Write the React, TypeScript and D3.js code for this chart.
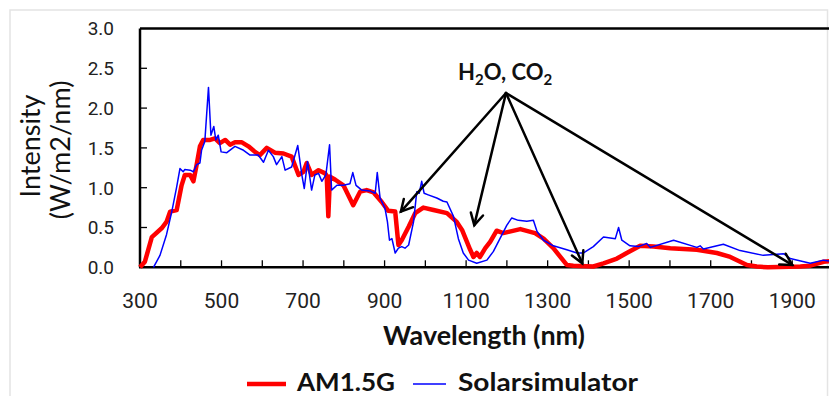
import React, { useEffect, useRef } from 'react';
import * as d3 from 'd3';

// AM1.5G reference spectrum [wavelength nm, W/m2/nm]
const am15g: [number, number][] = [
  [300, 0], [312, 0.07], [329, 0.38], [353, 0.49], [365, 0.57], [374, 0.7], [390, 0.72],
  [402, 1.03], [410, 1.16], [423, 1.16], [431, 1.08], [439, 1.29], [447, 1.52], [455, 1.6],
  [472, 1.6], [484, 1.62], [496, 1.56], [509, 1.6], [521, 1.54], [533, 1.57], [550, 1.57],
  [566, 1.52], [582, 1.45], [594, 1.41], [611, 1.5], [631, 1.44], [652, 1.43], [672, 1.39],
  [689, 1.16], [701, 1.2], [709, 1.31], [721, 1.16], [738, 1.22], [754, 1.18], [758, 1.15],
  [762, 0.64], [766, 1.14], [779, 1.1], [799, 1.03], [823, 0.78], [840, 0.95], [856, 0.97],
  [873, 0.94], [893, 0.82], [909, 0.71], [926, 0.7], [934, 0.28], [942, 0.34], [959, 0.51],
  [975, 0.68], [995, 0.75], [1020, 0.72], [1053, 0.68], [1077, 0.57], [1090, 0.47], [1102, 0.32],
  [1110, 0.22], [1118, 0.13], [1126, 0.18], [1134, 0.13], [1147, 0.24], [1159, 0.32],
  [1175, 0.46], [1191, 0.43], [1233, 0.48], [1269, 0.43], [1290, 0.36], [1314, 0.24],
  [1347, 0.03], [1363, 0.02], [1412, 0.01], [1437, 0.05], [1470, 0.11], [1494, 0.18],
  [1527, 0.27], [1560, 0.26], [1601, 0.24], [1666, 0.22], [1715, 0.18], [1748, 0.13],
  [1789, 0.03], [1813, 0.01], [1840, 0], [1920, 0.01], [1944, 0.02], [1977, 0.07], [2000, 0.08],
];

// solar simulator measurement
const solarSim: [number, number][] = [
  [333, 0], [349, 0.15], [365, 0.41], [378, 0.7], [390, 1.01], [398, 1.24], [406, 1.2],
  [410, 1.23], [423, 1.22], [431, 1.2], [439, 1.29], [447, 1.31], [451, 1.47], [459, 1.58],
  [468, 2.26], [474, 1.66], [481, 1.77], [486, 1.6], [492, 1.66], [499, 1.45], [513, 1.44],
  [533, 1.52], [554, 1.47], [570, 1.41], [590, 1.41], [603, 1.32], [615, 1.47], [627, 1.39],
  [635, 1.29], [648, 1.39], [656, 1.22], [672, 1.26], [687, 1.53], [697, 1.16], [703, 0.99],
  [711, 1.33], [721, 0.97], [729, 1.16], [738, 1.18], [746, 1.08], [756, 1.16], [765, 1.54],
  [770, 0.97], [783, 1.03], [799, 1.03], [815, 1.05], [822, 1.19], [830, 1.03], [844, 0.97],
  [864, 0.96], [877, 0.93], [882, 1.19], [889, 0.87], [901, 0.74], [907, 0.57], [912, 0.34],
  [918, 0.36], [926, 0.18], [934, 0.24], [942, 0.26], [950, 0.24], [959, 0.28], [971, 0.57],
  [979, 0.95], [985, 0.93], [991, 1.08], [997, 0.93], [1007, 0.91], [1028, 0.87], [1044, 0.83],
  [1053, 0.82], [1069, 0.64], [1081, 0.36], [1093, 0.18], [1106, 0.09], [1126, 0.05],
  [1151, 0.09], [1167, 0.2], [1183, 0.36], [1200, 0.53], [1212, 0.62], [1228, 0.59],
  [1249, 0.58], [1265, 0.59], [1274, 0.45], [1290, 0.34], [1314, 0.27], [1347, 0.22],
  [1372, 0.18], [1388, 0.18], [1412, 0.26], [1437, 0.38], [1466, 0.36], [1474, 0.5],
  [1482, 0.34], [1502, 0.27], [1523, 0.26], [1543, 0.3], [1552, 0.25], [1609, 0.34],
  [1666, 0.25], [1674, 0.27], [1682, 0.23], [1731, 0.29], [1772, 0.21], [1829, 0.15],
  [1879, 0.17], [1895, 0.11], [1944, 0.05], [1977, 0.09], [2000, 0.07],
];

const xTickLabels = [300, 500, 700, 900, 1100, 1300, 1500, 1700, 1900];
const xMinorTicks = [400, 500, 600, 700, 800, 900, 1000, 1100, 1200, 1300, 1400, 1500, 1600, 1700, 1800, 1900];
const yTicks = [0, 0.5, 1, 1.5, 2, 2.5, 3];
// absorption bands pointed at by the annotation [wavelength, value]
const bandTargets: [number, number][] = [[940, 0.7], [1120, 0.53], [1385, 0.05], [1900, 0.03]];

const W = 829;
const H = 396;

const App: React.FC = () => {
  const svgRef = useRef<SVGSVGElement>(null);

  useEffect(() => {
    if (!svgRef.current) return;
    const svg = d3.select(svgRef.current);
    svg.selectAll('*').remove();

    const x = d3.scaleLinear().domain([300, 2000]).range([140, 833]);
    const y = d3.scaleLinear().domain([0, 3]).range([267.3, 28.5]);
    const x0 = x(300), y0 = y(0), yTop = y(3);

    // outer light frame
    svg.append('rect')
      .attr('x', 10).attr('y', 10).attr('width', W - 11.5).attr('height', H)
      .attr('fill', 'none').attr('stroke', '#e4e4e4').attr('stroke-width', 1.5);

    // axes box (top, left, bottom)
    const ax = svg.append('g').attr('stroke', '#000').attr('stroke-width', 2.5);
    ax.append('line').attr('x1', x0).attr('x2', W).attr('y1', yTop).attr('y2', yTop);
    ax.append('line').attr('x1', x0).attr('x2', x0).attr('y1', yTop).attr('y2', y0);
    ax.append('line').attr('x1', x0 - 1).attr('x2', W).attr('y1', y0).attr('y2', y0);

    // inward ticks
    const tk = svg.append('g').attr('stroke', '#000').attr('stroke-width', 1.3);
    yTicks.filter(v => v > 0 && v < 3).forEach(v => {
      tk.append('line').attr('x1', x0).attr('x2', x0 + 7).attr('y1', y(v)).attr('y2', y(v));
    });
    xMinorTicks.forEach(v => {
      tk.append('line').attr('x1', x(v)).attr('x2', x(v)).attr('y1', y0).attr('y2', y0 - 7);
    });

    // tick labels
    svg.append('g')
      .style('font', '19px Roboto, Arial, sans-serif').attr('fill', '#222')
      .attr('text-anchor', 'end')
      .selectAll('text').data(yTicks).join('text')
      .attr('x', 114).attr('y', d => y(d)).attr('dy', '0.36em')
      .text(d => d.toFixed(1));

    svg.append('g')
      .style('font', '21px Roboto, Arial, sans-serif').attr('fill', '#222')
      .attr('text-anchor', 'middle')
      .selectAll('text').data(xTickLabels).join('text')
      .attr('x', d => x(d)).attr('y', 308)
      .text(d => String(d));

    // axis titles
    svg.append('text')
      .attr('transform', 'translate(40,146) rotate(-90)')
      .attr('text-anchor', 'middle')
      .style('font', '27px Lato, "Open Sans", sans-serif').attr('fill', '#111')
      .text('Intensity');
    svg.append('text')
      .attr('transform', 'translate(70,150) rotate(-90)')
      .attr('text-anchor', 'middle')
      .style('font', '27px Lato, "Open Sans", sans-serif').attr('fill', '#111')
      .text('(W/m2/nm)');
    svg.append('text')
      .attr('x', 484).attr('y', 345).attr('text-anchor', 'middle')
      .style('font', 'bold 26px Lato, "Open Sans", sans-serif').attr('fill', '#111')
      .attr('textLength', 202).attr('lengthAdjust', 'spacingAndGlyphs')
      .text('Wavelength (nm)');

    // series
    const line = d3.line<[number, number]>().x(d => x(d[0])).y(d => y(d[1])).curve(d3.curveLinear);
    svg.append('path').datum(am15g)
      .attr('fill', 'none').attr('stroke', '#ff0000').attr('stroke-width', 4.5)
      .attr('stroke-linejoin', 'round').attr('d', line);
    svg.append('path').datum(solarSim)
      .attr('fill', 'none').attr('stroke', '#0000ff').attr('stroke-width', 1.5)
      .attr('stroke-linejoin', 'round').attr('d', line);

    // H2O, CO2 annotation
    const lbl = svg.append('text')
      .attr('x', 458).attr('y', 80)
      .style('font', 'bold 22px Lato, "Open Sans", sans-serif').attr('fill', '#111');
    lbl.append('tspan').text('H');
    lbl.append('tspan').attr('dy', 5).style('font-size', '15px').text('2');
    lbl.append('tspan').attr('dy', -5).text('O, CO');
    lbl.append('tspan').attr('dy', 5).style('font-size', '15px').text('2');

    const apex: [number, number] = [506, 93];
    const arr = svg.append('g').attr('stroke', '#000').attr('stroke-width', 2.5)
      .attr('fill', 'none').attr('stroke-linecap', 'round');
    bandTargets.forEach(([wl, v]) => {
      const tx = x(wl), ty = y(v);
      arr.append('line').attr('x1', apex[0]).attr('y1', apex[1]).attr('x2', tx).attr('y2', ty);
      const ang = Math.atan2(ty - apex[1], tx - apex[0]);
      const len = 13, spread = 0.5;
      const p1 = [tx - len * Math.cos(ang - spread), ty - len * Math.sin(ang - spread)];
      const p2 = [tx - len * Math.cos(ang + spread), ty - len * Math.sin(ang + spread)];
      arr.append('path').attr('d', `M${p1[0]},${p1[1]}L${tx},${ty}L${p2[0]},${p2[1]}`);
    });

    // legend
    const lg = svg.append('g');
    lg.append('line').attr('x1', 247).attr('x2', 286).attr('y1', 384).attr('y2', 384)
      .attr('stroke', '#ff0000').attr('stroke-width', 4.5);
    lg.append('text').attr('x', 297).attr('y', 391)
      .style('font', 'bold 24px Lato, "Open Sans", sans-serif').attr('fill', '#111')
      .attr('textLength', 98).attr('lengthAdjust', 'spacingAndGlyphs')
      .text('AM1.5G');
    lg.append('line').attr('x1', 413).attr('x2', 446).attr('y1', 384).attr('y2', 384)
      .attr('stroke', '#0000ff').attr('stroke-width', 1.5);
    lg.append('text').attr('x', 458).attr('y', 391)
      .style('font', 'bold 24px Lato, "Open Sans", sans-serif').attr('fill', '#111')
      .attr('textLength', 180).attr('lengthAdjust', 'spacingAndGlyphs')
      .text('Solarsimulator');
  }, []);

  return (
    <svg
      ref={svgRef}
      width={W}
      height={H}
      style={{ position: 'absolute', left: 0, top: 0, background: '#fff' }}
    />
  );
};

export default App;
